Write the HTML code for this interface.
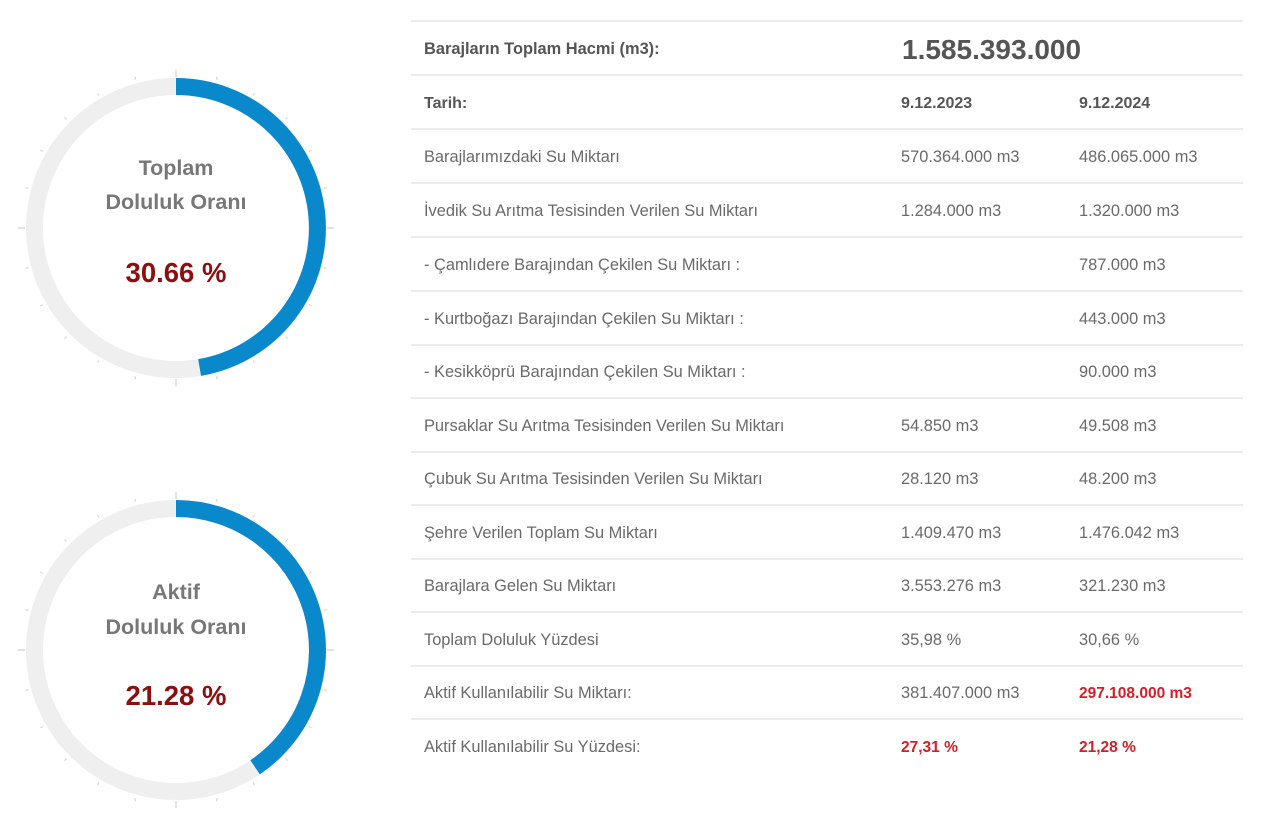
<!DOCTYPE html>
<html><head><meta charset="utf-8"><style>
html,body{margin:0;padding:0;background:#fff;}
svg{display:block}
text{font-family:"Liberation Sans",sans-serif;}
</style></head><body>
<svg width="1280" height="827" viewBox="0 0 1280 827" xmlns="http://www.w3.org/2000/svg">
<g>
  <circle cx="176" cy="228" r="141.5" fill="none" stroke="#efefef" stroke-width="17"/>
  <path d="M176 86.5 A141.5 141.5 0 0 1 199.6 367.5" fill="none" stroke="#0a88cc" stroke-width="17"/>
  <text x="176" y="175" text-anchor="middle" font-size="21.5" font-weight="bold" fill="#777">Toplam</text>
  <text x="176" y="209" text-anchor="middle" font-size="21.5" font-weight="bold" fill="#777">Doluluk Oranı</text>
  <text x="176" y="282" text-anchor="middle" font-size="27.5" font-weight="bold" fill="#8b0f0f">30.66 %</text>
</g>
<g>
  <circle cx="176" cy="650" r="141.5" fill="none" stroke="#efefef" stroke-width="17"/>
  <path d="M176 508.5 A141.5 141.5 0 0 1 255.1 767.3" fill="none" stroke="#0a88cc" stroke-width="17"/>
  <text x="176" y="599" text-anchor="middle" font-size="21.5" font-weight="bold" fill="#777">Aktif</text>
  <text x="176" y="634" text-anchor="middle" font-size="21.5" font-weight="bold" fill="#777">Doluluk Oranı</text>
  <text x="176" y="705" text-anchor="middle" font-size="27.5" font-weight="bold" fill="#8b0f0f">21.28 %</text>
</g>
<g stroke="#e6e6e6" stroke-width="1.5">
  <line x1="411" y1="21" x2="1243" y2="21"/>
  <line x1="411" y1="75" x2="1243" y2="75"/>
  <line x1="411" y1="129" x2="1243" y2="129"/>
  <line x1="411" y1="183" x2="1243" y2="183"/>
  <line x1="411" y1="237" x2="1243" y2="237"/>
  <line x1="411" y1="291" x2="1243" y2="291"/>
  <line x1="411" y1="345" x2="1243" y2="345"/>
  <line x1="411" y1="398" x2="1243" y2="398"/>
  <line x1="411" y1="452" x2="1243" y2="452"/>
  <line x1="411" y1="505" x2="1243" y2="505"/>
  <line x1="411" y1="559" x2="1243" y2="559"/>
  <line x1="411" y1="612" x2="1243" y2="612"/>
  <line x1="411" y1="666" x2="1243" y2="666"/>
  <line x1="411" y1="719" x2="1243" y2="719"/>
</g>
<g font-size="16.4" fill="#6a6a6a">
  <text x="424" y="54" font-weight="bold" fill="#555" font-size="16.4">Barajların Toplam Hacmi (m3):</text>
  <text x="902" y="59" font-weight="bold" fill="#555" font-size="28">1.585.393.000</text>
  <text x="424" y="108" font-weight="bold" fill="#555" font-size="16">Tarih:</text>
  <text x="901" y="108" font-weight="bold" fill="#555" font-size="16">9.12.2023</text>
  <text x="1079" y="108" font-weight="bold" fill="#555" font-size="16">9.12.2024</text>

  <text x="424" y="162">Barajlarımızdaki Su Miktarı</text><text x="901" y="162">570.364.000 m3</text><text x="1079" y="162">486.065.000 m3</text>
  <text x="424" y="216">İvedik Su Arıtma Tesisinden Verilen Su Miktarı</text><text x="901" y="216">1.284.000 m3</text><text x="1079" y="216">1.320.000 m3</text>
  <text x="424" y="270">- Çamlıdere Barajından Çekilen Su Miktarı :</text><text x="1079" y="270">787.000 m3</text>
  <text x="424" y="324">- Kurtboğazı Barajından Çekilen Su Miktarı :</text><text x="1079" y="324">443.000 m3</text>
  <text x="424" y="377">- Kesikköprü Barajından Çekilen Su Miktarı :</text><text x="1079" y="377">90.000 m3</text>
  <text x="424" y="431">Pursaklar Su Arıtma Tesisinden Verilen Su Miktarı</text><text x="901" y="431">54.850 m3</text><text x="1079" y="431">49.508 m3</text>
  <text x="424" y="484">Çubuk Su Arıtma Tesisinden Verilen Su Miktarı</text><text x="901" y="484">28.120 m3</text><text x="1079" y="484">48.200 m3</text>
  <text x="424" y="538">Şehre Verilen Toplam Su Miktarı</text><text x="901" y="538">1.409.470 m3</text><text x="1079" y="538">1.476.042 m3</text>
  <text x="424" y="591">Barajlara Gelen Su Miktarı</text><text x="901" y="591">3.553.276 m3</text><text x="1079" y="591">321.230 m3</text>
  <text x="424" y="645">Toplam Doluluk Yüzdesi</text><text x="901" y="645">35,98 %</text><text x="1079" y="645">30,66 %</text>
  <text x="424" y="698">Aktif Kullanılabilir Su Miktarı:</text><text x="901" y="698">381.407.000 m3</text><text x="1079" y="698" fill="#d0202a" font-weight="bold" font-size="15.5">297.108.000 m3</text>
  <text x="424" y="752">Aktif Kullanılabilir Su Yüzdesi:</text><text x="901" y="752" fill="#d0202a" font-weight="bold" font-size="15.5">27,31 %</text><text x="1079" y="752" fill="#d0202a" font-weight="bold" font-size="15.5">21,28 %</text>
</g>
<g stroke="#c4c4c4" stroke-width="1">
  <line x1="176" y1="70" x2="176" y2="77"/><line x1="176" y1="379" x2="176" y2="386"/>
  <line x1="18" y1="228" x2="25" y2="228"/><line x1="327" y1="228" x2="334" y2="228"/>
  <line x1="176" y1="492" x2="176" y2="499"/><line x1="176" y1="801" x2="176" y2="808"/>
  <line x1="18" y1="650" x2="25" y2="650"/><line x1="327" y1="650" x2="334" y2="650"/>
</g>
<g stroke="#d0d0d0" stroke-width="1">
  <line x1="216.4" y1="77" x2="217.2" y2="80"/><line x1="254.5" y1="93" x2="253" y2="95.6"/><line x1="287.7" y1="117.3" x2="285.6" y2="119.4"/><line x1="311.6" y1="150" x2="309" y2="151.5"/><line x1="326.6" y1="187.6" x2="323.7" y2="188.4"/>
  <line x1="326.6" y1="268.4" x2="323.7" y2="267.6"/><line x1="311.6" y1="306" x2="309" y2="304.5"/><line x1="287.7" y1="338.7" x2="285.6" y2="336.6"/><line x1="254.5" y1="363" x2="253" y2="360.4"/><line x1="216.4" y1="379" x2="217.2" y2="376"/>
  <line x1="135.6" y1="379" x2="134.8" y2="376"/><line x1="97.5" y1="363" x2="99" y2="360.4"/><line x1="64.3" y1="338.7" x2="66.4" y2="336.6"/><line x1="40.4" y1="306" x2="43" y2="304.5"/><line x1="25.4" y1="268.4" x2="28.3" y2="267.6"/>
  <line x1="25.4" y1="187.6" x2="28.3" y2="188.4"/><line x1="40.4" y1="150" x2="43" y2="151.5"/><line x1="64.3" y1="117.3" x2="66.4" y2="119.4"/><line x1="97.5" y1="93" x2="99" y2="95.6"/><line x1="135.6" y1="77" x2="134.8" y2="80"/>
</g>
<g stroke="#d0d0d0" stroke-width="1" transform="translate(0,422)">
  <line x1="216.4" y1="77" x2="217.2" y2="80"/><line x1="254.5" y1="93" x2="253" y2="95.6"/><line x1="287.7" y1="117.3" x2="285.6" y2="119.4"/><line x1="311.6" y1="150" x2="309" y2="151.5"/><line x1="326.6" y1="187.6" x2="323.7" y2="188.4"/>
  <line x1="326.6" y1="268.4" x2="323.7" y2="267.6"/><line x1="311.6" y1="306" x2="309" y2="304.5"/><line x1="287.7" y1="338.7" x2="285.6" y2="336.6"/><line x1="254.5" y1="363" x2="253" y2="360.4"/><line x1="216.4" y1="379" x2="217.2" y2="376"/>
  <line x1="135.6" y1="379" x2="134.8" y2="376"/><line x1="97.5" y1="363" x2="99" y2="360.4"/><line x1="64.3" y1="338.7" x2="66.4" y2="336.6"/><line x1="40.4" y1="306" x2="43" y2="304.5"/><line x1="25.4" y1="268.4" x2="28.3" y2="267.6"/>
  <line x1="25.4" y1="187.6" x2="28.3" y2="188.4"/><line x1="40.4" y1="150" x2="43" y2="151.5"/><line x1="64.3" y1="117.3" x2="66.4" y2="119.4"/><line x1="97.5" y1="93" x2="99" y2="95.6"/><line x1="135.6" y1="77" x2="134.8" y2="80"/>
</g>
</svg>
</body></html>
